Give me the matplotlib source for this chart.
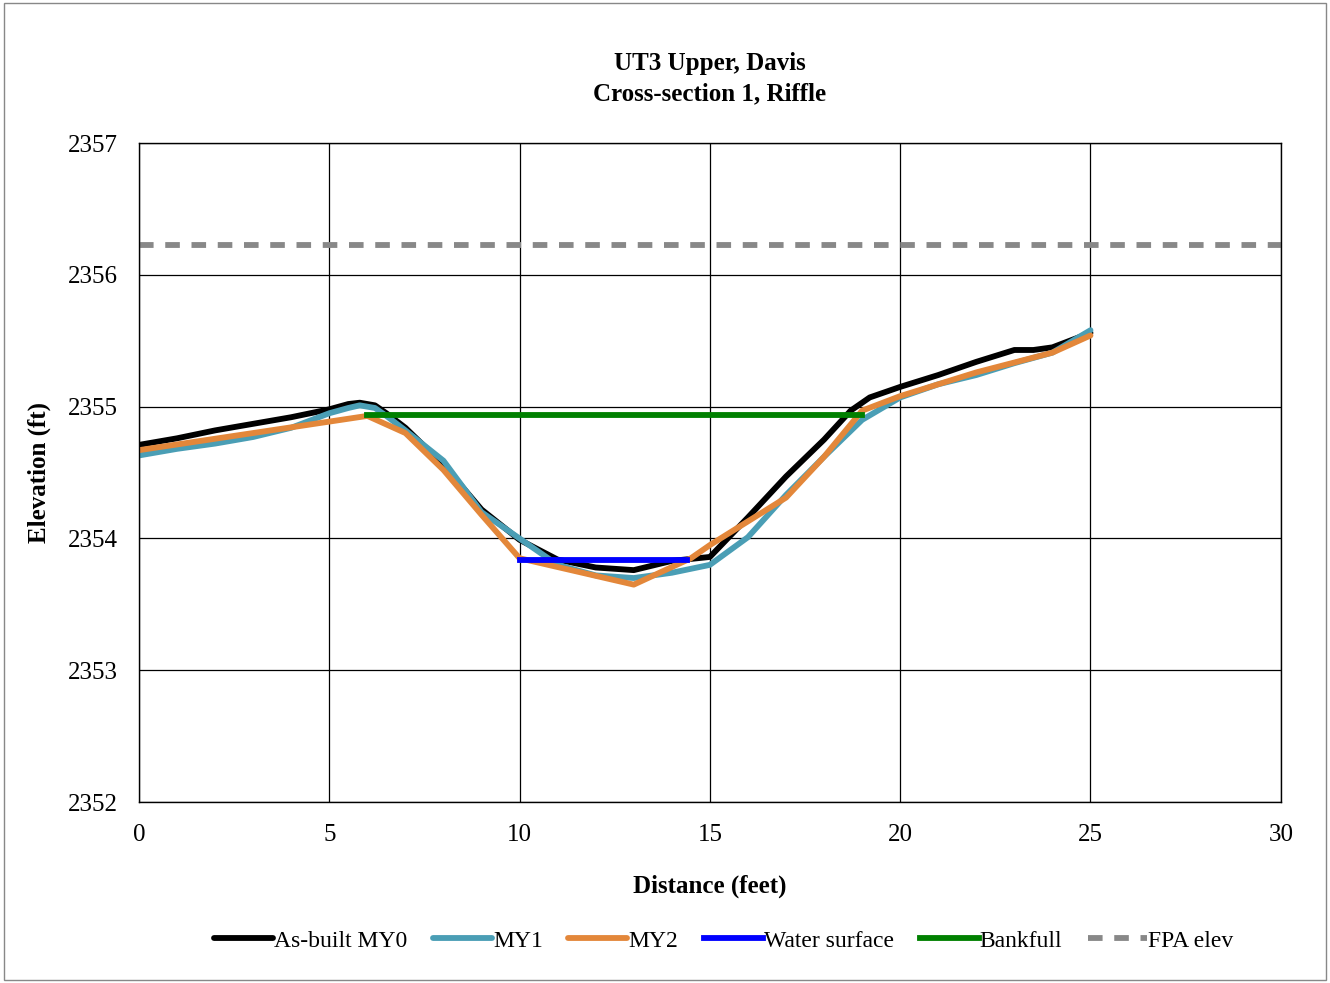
import numpy as np
import matplotlib.pyplot as plt

plt.rcParams['font.family'] = ['Liberation Serif', 'DejaVu Serif']

# survey data
x_my0 = [0, 1, 2, 3, 4, 5, 5.5, 5.8, 6.2, 6.5, 7, 8, 9, 10, 11, 12, 13, 14, 15, 16, 17, 18, 18.7, 19.2, 20, 21, 22, 23, 23.5, 24, 25]
y_my0 = [2354.71, 2354.76, 2354.82, 2354.87, 2354.92, 2354.98, 2355.02, 2355.03, 2355.01, 2354.95, 2354.84, 2354.56, 2354.22, 2353.99,
         2353.84, 2353.78, 2353.76, 2353.83, 2353.86, 2354.16, 2354.47, 2354.75, 2354.97, 2355.07, 2355.15, 2355.24,
         2355.34, 2355.43, 2355.43, 2355.45, 2355.56]
x_my1 = [0, 1, 2, 3, 4, 5, 5.5, 5.8, 6.2, 6.5, 7, 8, 9, 10, 11, 12, 13, 14, 15, 16, 17, 18, 19, 20, 21, 22, 23, 24, 25]
y_my1 = [2354.63, 2354.68, 2354.72, 2354.77, 2354.84, 2354.95, 2354.99, 2355.01, 2354.99, 2354.93, 2354.82, 2354.59, 2354.20, 2354.00,
         2353.80, 2353.72, 2353.70, 2353.74, 2353.80, 2354.01, 2354.33, 2354.62, 2354.90, 2355.07, 2355.17, 2355.24,
         2355.33, 2355.41, 2355.58]
x_my2 = [0, 6, 7, 8, 9, 10, 13, 14.5, 15, 17, 18, 19, 20, 22, 24, 25]
y_my2 = [2354.67, 2354.93, 2354.80, 2354.52, 2354.18, 2353.85, 2353.65, 2353.85, 2353.95, 2354.31, 2354.62, 2354.97,
         2355.08, 2355.26, 2355.41, 2355.54]
x_ws = [10, 14.4]
y_ws = [2353.84, 2353.84]
x_bkf = [6, 19]
y_bkf = [2354.94, 2354.94]
x_fpa = [0, 30]
y_fpa = [2356.23, 2356.23]

fig = plt.figure(figsize=(13.3, 9.83), dpi=100)
ax = fig.add_axes([0.1045, 0.184, 0.8585, 0.6705])
fig.patches.append(plt.Rectangle((0.003, 0.003), 0.994, 0.994, transform=fig.transFigure,
                                 fill=False, edgecolor='#888888', linewidth=1))

lw = 4.2
ax.plot(x_my0, y_my0, color='black', lw=lw, label='As-built MY0', solid_capstyle='round', solid_joinstyle='round')
ax.plot(x_my1, y_my1, color='#4a9eb5', lw=lw, label='MY1', solid_capstyle='round', solid_joinstyle='round')
ax.plot(x_my2, y_my2, color='#e3873a', lw=lw, label='MY2', solid_capstyle='round', solid_joinstyle='round')
ax.plot(x_ws, y_ws, color='#0000ff', lw=lw, label='Water surface')
ax.plot(x_bkf, y_bkf, color='#008000', lw=lw, label='Bankfull')
ax.plot(x_fpa, y_fpa, color='#888888', lw=lw, ls=(0, (2.5, 2)), label='FPA elev')

ax.set_xlim(0, 30)
ax.set_ylim(2352, 2357)
ax.set_xticks(np.arange(0, 31, 5))
ax.set_yticks(np.arange(2352, 2358, 1))
ax.grid(True, color='black', linewidth=0.9)
ax.set_axisbelow(True)
ax.tick_params(labelsize=18, length=0)
ax.tick_params(axis='x', pad=16)
ax.tick_params(axis='y', pad=15)
ax.yaxis.get_major_formatter().set_useOffset(False)
for s in ax.spines.values():
    s.set_linewidth(1)

ax.set_xlabel('Distance (feet)', fontsize=18, fontweight='bold', labelpad=20)
ax.set_ylabel('Elevation (ft)', fontsize=18, fontweight='bold', labelpad=12)
ax.set_title('UT3 Upper, Davis\nCross-section 1, Riffle', fontsize=18, fontweight='bold', pad=31,
             linespacing=1.4)

ax.legend(loc='upper center', bbox_to_anchor=(0.512, -0.162), ncol=6, frameon=False, fontsize=17,
          handlelength=2.5, handletextpad=0.05, columnspacing=1.08)

fig.savefig('out.png')
